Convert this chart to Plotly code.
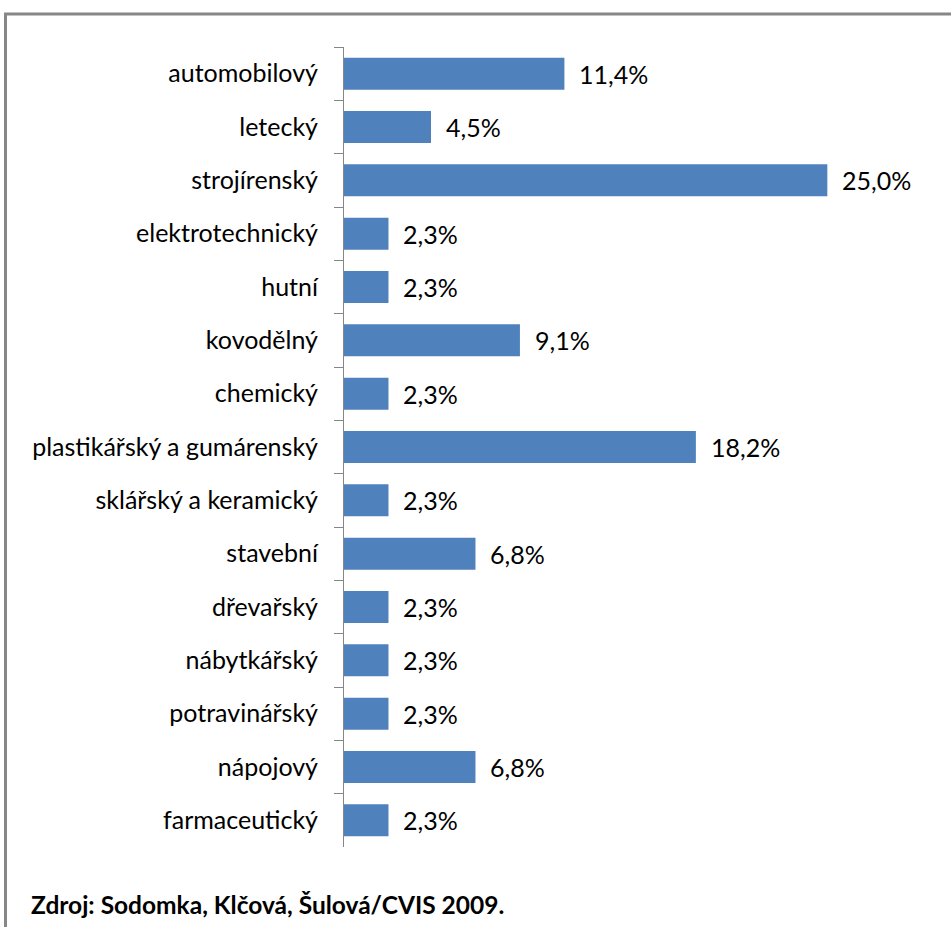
import plotly.graph_objects as go

# Podíl podniků podle odvětví
categories = [
    "automobilový", "letecký", "strojírenský", "elektrotechnický", "hutní",
    "kovodělný", "chemický", "plastikářský a gumárenský", "sklářský a keramický",
    "stavební", "dřevařský", "nábytkářský", "potravinářský", "nápojový",
    "farmaceutický",
]
shares = [11.4, 4.5, 25.0, 2.3, 2.3, 9.1, 2.3, 18.2, 2.3, 6.8, 2.3, 2.3, 2.3, 6.8, 2.3]
value_labels = [f"{v:.1f}%".replace(".", ",") for v in shares]
source_text = "<b>Zdroj: Sodomka, Klčová, Šulová/CVIS 2009.</b>"

FONT = "Lato"
FS = 25
W, H = 951, 927
L, R, T, B = 344, 27, 47, 80
plot_w = W - L - R
plot_h = H - T - B

fig = go.Figure(
    go.Bar(
        x=shares,
        y=categories,
        orientation="h",
        marker=dict(color="#4F81BD", line=dict(width=0)),
        hoverinfo="skip",
    )
)

for cat, v, lab in zip(categories, shares, value_labels):
    fig.add_annotation(
        x=v, y=cat, text=lab, showarrow=False,
        xanchor="left", yanchor="middle", xshift=13,
        font=dict(family=FONT, size=FS, color="#000000"),
    )

def px_x(px):
    return (px - L) / plot_w

def px_y(py):
    return (H - B - py) / plot_h

# Frame: top and left edges
border = dict(color="#878787", width=3)
fig.add_shape(type="line", xref="paper", yref="paper",
              x0=px_x(4), x1=px_x(W + 2), y0=px_y(14), y1=px_y(14), line=border)
fig.add_shape(type="line", xref="paper", yref="paper",
              x0=px_x(5.5), x1=px_x(5.5), y0=px_y(13), y1=px_y(H + 2), line=border)

fig.add_annotation(
    xref="paper", yref="paper", x=px_x(29), y=px_y(904),
    xanchor="left", yanchor="middle", showarrow=False,
    text=source_text, font=dict(family=FONT, size=24.5, color="#000000"),
)

fig.update_layout(
    width=W, height=H,
    margin=dict(l=L, r=R, t=T, b=B, pad=0),
    paper_bgcolor="white", plot_bgcolor="white",
    bargap=0.4,
    showlegend=False,
    xaxis=dict(range=[0, 30], visible=False, fixedrange=True),
    yaxis=dict(
        autorange="reversed",
        showline=True, linecolor="#868686", linewidth=1,
        ticks="outside", ticklen=9, tickcolor="#868686", tickwidth=1,
        tickson="boundaries",
        ticklabelstandoff=20,
        tickfont=dict(family=FONT, size=FS, color="#000000"),
        showgrid=False, zeroline=False, fixedrange=True,
    ),
)

fig.write_html("out.html")
